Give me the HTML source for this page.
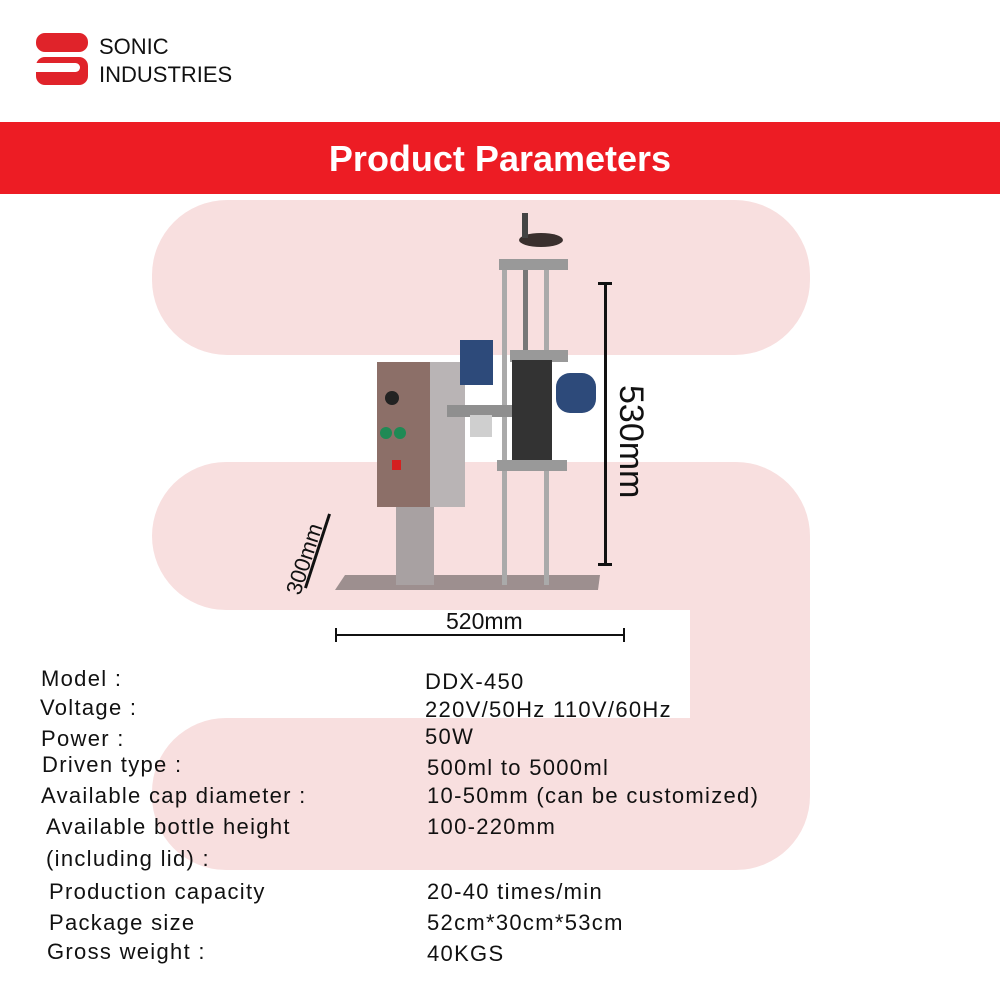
<!DOCTYPE html>
<html><head><meta charset="utf-8"><style>
body{margin:0;width:1000px;height:1000px;background:#fff;position:relative;overflow:hidden;font-family:"Liberation Sans",sans-serif}
.a{position:absolute}
.pk{position:absolute;background:#f8dfdf}
.t{position:absolute;font-size:22px;letter-spacing:1.3px;color:#111;white-space:nowrap}
</style></head><body>
<div class="pk" style="left:152px;top:200px;width:658px;height:155px;border-radius:75px"></div>
<div class="pk" style="left:152px;top:462px;width:658px;height:148px;border-radius:74px 74px 0 74px"></div>
<div class="pk" style="left:690px;top:560px;width:120px;height:200px"></div>
<div class="pk" style="left:152px;top:718px;width:658px;height:152px;border-radius:74px 0 74px 74px"></div>

<!-- logo -->
<div class="a" style="left:36px;top:33px;width:52px;height:19px;background:#e0232a;border-radius:9px"></div>
<div class="a" style="left:36px;top:57px;width:52px;height:28px;background:#e0232a;border-radius:9px"></div>
<div class="a" style="left:36px;top:63px;width:44px;height:9px;background:#fff;border-radius:0 5px 5px 0"></div>
<div class="a" style="left:99px;top:33px;font-size:22px;color:#111;line-height:28px">SONIC<br>INDUSTRIES</div>

<div class="a" style="left:0;top:122px;width:1000px;height:72px;background:#ed1c24"></div>
<div class="a" style="left:0;top:138px;width:1000px;text-align:center;color:#fff;font-size:36px;font-weight:bold">Product Parameters</div>

<!-- machine -->
<svg class="a" style="left:0;top:0" width="1000" height="1000">
<polygon points="345,575 600,575 598,590 335,590" fill="#9d8f8f"/>
<rect x="396" y="500" width="38" height="85" fill="#a8a1a2"/>
<rect x="377" y="362" width="85" height="145" fill="#8c6f68"/>
<rect x="430" y="362" width="35" height="145" fill="#b9b4b5"/>
<circle cx="392" cy="398" r="7" fill="#222"/>
<circle cx="386" cy="433" r="6" fill="#1f8a55"/><circle cx="400" cy="433" r="6" fill="#1f8a55"/>
<rect x="392" y="460" width="9" height="10" fill="#d42020"/>
<rect x="502" y="265" width="5" height="320" fill="#aaa"/><rect x="544" y="265" width="5" height="320" fill="#aaa"/>
<rect x="523" y="265" width="5" height="200" fill="#777"/>
<rect x="499" y="259" width="69" height="11" fill="#999"/>
<ellipse cx="541" cy="240" rx="22" ry="7" fill="#3a302e"/>
<rect x="522" y="213" width="6" height="25" fill="#444"/>
<rect x="510" y="350" width="58" height="12" fill="#999"/>
<rect x="460" y="340" width="33" height="45" fill="#2d4a7a"/>
<rect x="556" y="373" width="40" height="40" rx="14" fill="#2d4a7a"/>
<rect x="447" y="405" width="92" height="12" fill="#8f8f8f"/>
<rect x="470" y="415" width="22" height="22" fill="#cfcfcf"/>
<rect x="512" y="360" width="40" height="100" fill="#333"/>
<rect x="497" y="460" width="70" height="11" fill="#999"/>
</svg>

<!-- dimensions -->
<div class="a" style="left:604px;top:283px;width:3px;height:282px;background:#111"></div>
<div class="a" style="left:598px;top:282px;width:14px;height:3px;background:#111"></div>
<div class="a" style="left:598px;top:563px;width:14px;height:3px;background:#111"></div>
<div class="a" style="top:385px;font-size:34px;color:#111;transform:rotate(90deg);transform-origin:left top;left:650px;white-space:nowrap">530mm</div>
<div class="a" style="left:336px;top:634px;width:288px;height:2px;background:#111"></div>
<div class="a" style="left:335px;top:628px;width:2px;height:14px;background:#111"></div>
<div class="a" style="left:623px;top:628px;width:2px;height:14px;background:#111"></div>
<div class="a" style="left:446px;top:608px;font-size:23px;color:#111">520mm</div>
<div class="a" style="left:316px;top:512px;width:3px;height:78px;background:#111;transform:rotate(18deg)"></div>
<div class="a" style="left:281px;top:590px;font-size:22px;color:#111;transform:rotate(-72deg);transform-origin:left top;white-space:nowrap">300mm</div>

<div class="t" style="left:41px;top:666px">Model :</div>
<div class="t" style="left:40px;top:695px">Voltage :</div>
<div class="t" style="left:41px;top:726px">Power :</div>
<div class="t" style="left:42px;top:752px">Driven type :</div>
<div class="t" style="left:41px;top:783px">Available cap diameter :</div>
<div class="t" style="left:46px;top:814px">Available bottle height</div>
<div class="t" style="left:46px;top:846px">(including lid) :</div>
<div class="t" style="left:49px;top:879px">Production capacity</div>
<div class="t" style="left:49px;top:910px">Package size</div>
<div class="t" style="left:47px;top:939px">Gross weight :</div>
<div class="t" style="left:425px;top:669px">DDX-450</div>
<div class="t" style="left:425px;top:697px">220V/50Hz 110V/60Hz</div>
<div class="t" style="left:425px;top:724px">50W</div>
<div class="t" style="left:427px;top:755px">500ml to 5000ml</div>
<div class="t" style="left:427px;top:783px">10-50mm (can be customized)</div>
<div class="t" style="left:427px;top:814px">100-220mm</div>
<div class="t" style="left:427px;top:879px">20-40 times/min</div>
<div class="t" style="left:427px;top:910px">52cm*30cm*53cm</div>
<div class="t" style="left:427px;top:941px">40KGS</div>
</body></html>
